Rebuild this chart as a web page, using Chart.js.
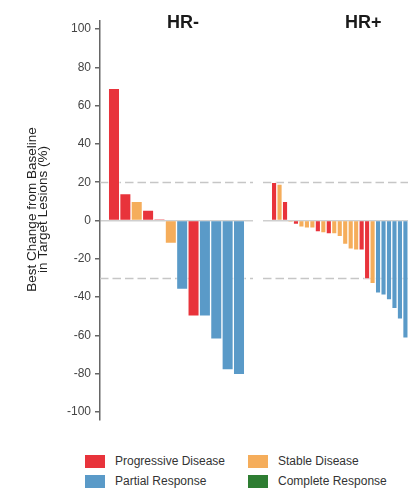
<!DOCTYPE html>
<html>
<head>
<meta charset="utf-8">
<script src="https://cdn.jsdelivr.net/npm/chart.js@4.4.1/dist/chart.umd.min.js"></script>
<style>
    html, body { margin: 0; padding: 0; background: #fff; }
    body {
        width: 408px; height: 489px; overflow: hidden; position: relative;
        font-family: "Liberation Sans", Arial, sans-serif; color: #333;
    }
    canvas { position: absolute; top: 0; }
    #chart-neg { left: 0; }
    #chart-pos { left: 256px; }
    .panel-title {
        position: absolute; top: 13px; font-size: 18px; line-height: 18px;
        font-weight: bold; color: #1a1a1a;
    }
    .legend-item {
        position: absolute; display: flex; align-items: center;
        height: 13px; font-size: 12px; line-height: 13px; color: #333; white-space: nowrap;
    }
    .legend-item span.box { width: 20px; height: 13px; margin-right: 10px; flex: none; }
</style>
</head>
<body>
<canvas id="chart-neg" width="256" height="440"></canvas>
<canvas id="chart-pos" width="162" height="440"></canvas>
<div class="panel-title" style="left:167px">HR-</div>
<div class="panel-title" style="left:345px">HR+</div>
<div id="legend"></div>

<script>
    const responseCodes = ['PD', 'SD', 'PR', 'CR'];
    const responseLabels = ['Progressive Disease', 'Stable Disease', 'Partial Response', 'Complete Response'];
    const responseColors = ['#e8333b', '#f5ad5b', '#5a9ac8', '#2e7d32'];

    // best % change per patient, waterfall order
    const hrNegChange = [69, 14, 10, 5.5, 0.5, -12, -36, -50, -50, -62, -78, -80.5];
    const hrNegResponse = ['PD', 'PD', 'SD', 'PD', 'PD', 'SD', 'PR', 'PD', 'PR', 'PR', 'PR', 'PR'];

    const hrPosChange = [20, 19, 10, -0.5, -2, -3.5, -4, -4, -6, -6.5, -7, -7, -8.5, -12.5,
        -15, -15.5, -15.5, -30.5, -33, -38, -39, -41.5, -46, -51.5, -61.5];
    const hrPosResponse = ['PD', 'SD', 'PD', 'SD', 'PD', 'SD', 'SD', 'SD', 'PD', 'SD', 'PD', 'SD', 'SD', 'SD',
        'SD', 'SD', 'PD', 'PD', 'SD', 'PR', 'PR', 'PR', 'PR', 'PR', 'PR'];

    const yTicks = [-100, -80, -60, -40, -20, 0, 20, 40, 60, 80, 100];
    const refLevels = [20, -30];
    const yTitleLines = ['Best Change from Baseline', 'in Target Lesions (%)'];

    const fontFamily = '"Liberation Sans", Arial, sans-serif';

    // dashed reference lines, drawn under the bars
    const refLinesPlugin = {
        id: 'refLines',
        beforeDatasetsDraw(chart) {
            const { ctx, chartArea, scales } = chart;
            ctx.save();
            ctx.strokeStyle = '#c6c6c6';
            ctx.lineWidth = 1.3;
            ctx.setLineDash([8.5, 4]);
            refLevels.forEach(v => {
                const py = Math.round(scales.y.getPixelForValue(v)) + 0.5;
                ctx.beginPath();
                ctx.moveTo(chartArea.left, py);
                ctx.lineTo(chartArea.right, py);
                ctx.stroke();
            });
            ctx.restore();
        }
    };

    // rotated two-line y axis title, sitting a little above the axis middle
    const axisTitlePlugin = {
        id: 'axisTitle',
        afterDraw(chart) {
            const { ctx, chartArea } = chart;
            ctx.save();
            ctx.translate(32, (chartArea.top + chartArea.bottom) / 2 - 11);
            ctx.rotate(-Math.PI / 2);
            ctx.fillStyle = '#222';
            ctx.font = '13.5px ' + fontFamily;
            ctx.textAlign = 'center';
            ctx.textBaseline = 'middle';
            yTitleLines.forEach((line, i) => ctx.fillText(line, 0, i * 11.5));
            ctx.restore();
        }
    };

    function colorFor(code) {
        return responseColors[responseCodes.indexOf(code)];
    }

    function makePanel(id, values, responses, showAxis, padding) {
        const n = values.length;
        const edge = 0.5 + n * 0.061;

        return new Chart(document.getElementById(id), {
            type: 'bar',
            data: {
                datasets: [{
                    data: values.map((v, i) => ({ x: i, y: v })),
                    backgroundColor: responses.map(colorFor),
                    borderColor: 'rgba(255,255,255,0.45)',
                    borderWidth: 1,
                    barPercentage: 1,
                    categoryPercentage: 1
                }]
            },
            options: {
                responsive: false,
                animation: false,
                layout: { padding: padding },
                plugins: { legend: { display: false }, tooltip: { enabled: false } },
                scales: {
                    x: {
                        type: 'linear',
                        display: false,
                        offset: false,
                        grid: { offset: false },
                        min: -edge,
                        max: n - 1 + edge,
                        // one tick per patient so bar width = one slot
                        afterBuildTicks: s => {
                            s.ticks = values.map((v, i) => ({ value: i }));
                        }
                    },
                    y: {
                        min: -104.2,
                        max: 104.2,
                        afterBuildTicks: s => {
                            s.ticks = yTicks.map(v => ({ value: v }));
                        },
                        afterFit: s => { s.width = showAxis ? 100 : 0; },
                        ticks: {
                            display: showAxis,
                            color: '#444',
                            padding: 4,
                            font: { size: 12, family: fontFamily }
                        },
                        grid: {
                            color: c => (c.tick && c.tick.value === 0) ? '#cfcfcf' : 'rgba(0,0,0,0)',
                            lineWidth: 1.5,
                            drawTicks: showAxis,
                            tickLength: 5,
                            tickColor: '#666',
                            tickWidth: 1.5
                        },
                        border: { display: showAxis, color: '#666', width: 1.5 }
                    }
                }
            },
            plugins: showAxis ? [refLinesPlugin, axisTitlePlugin] : [refLinesPlugin]
        });
    }

    makePanel('chart-neg', hrNegChange, hrNegResponse, true, { left: 0, right: 3, top: 21, bottom: 20 });
    makePanel('chart-pos', hrPosChange, hrPosResponse, false, { left: 7, right: 1.5, top: 21, bottom: 20 });

    // legend, two columns
    const legendSpots = [[85, 455], [248, 455], [85, 475], [248, 475]];
    const legend = document.getElementById('legend');
    responseLabels.forEach((label, i) => {
        const item = document.createElement('div');
        item.className = 'legend-item';
        item.style.left = legendSpots[i][0] + 'px';
        item.style.top = legendSpots[i][1] + 'px';
        item.innerHTML = `<span class="box" style="background:${responseColors[i]}"></span>${label}`;
        legend.appendChild(item);
    });
</script>
</body>
</html>
